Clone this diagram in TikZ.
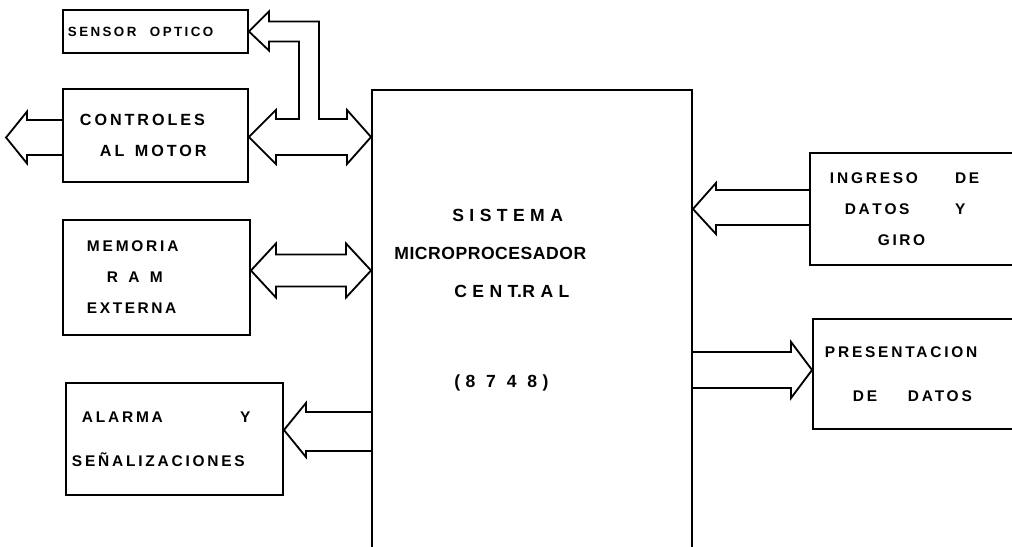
\documentclass[tikz,border=0pt]{standalone}
\usepackage{fontspec}
\newfontfamily\boxfont[LetterSpace=18]{Liberation Sans}
\newfontfamily\cpufont[LetterSpace=3]{Liberation Sans}
\usetikzlibrary{calc, positioning}
\tikzset{
    blockbox/.style={
        rectangle,
        draw=black,
        line width=1.3pt,
        inner sep=0pt,
        align=left,
        font=\boxfont\bfseries\fontsize{11}{22}\selectfont
    },
    cpubox/.style={
        rectangle,
        draw=black,
        line width=1.3pt,
        inner sep=0pt
    },
    cputext/.style={
        inner sep=0pt,
        align=left,
        font=\cpufont\bfseries\fontsize{12.5}{27}\selectfont
    },
    busarrow/.style={
        draw=black,
        line width=1.3pt,
        line join=miter
    }
}

\begin{document}
\begin{tikzpicture}[x=0.025cm, y=-0.025cm]
    \useasboundingbox (0,0) rectangle (1012,546);
    \clip (0,0) rectangle (1012,546);

    % left column
    \node[blockbox, text width=4.625cm, minimum height=1.075cm, font=\boxfont\bfseries\fontsize{9.5}{22}\selectfont] (sensor) at (155.5,31.5) {\hspace*{0.125cm}\makebox[2.05cm][l]{SENSOR}OPTICO};
    \node[blockbox, text width=4.625cm, minimum height=2.325cm, font=\boxfont\bfseries\fontsize{11.5}{22}\selectfont] (ctrl) at (155.5,135.5) {\hspace*{0.425cm}CONTROLES\\ \hspace*{0.925cm}\makebox[0.875cm][l]{AL}MOTOR};
    \node[blockbox, text width=4.675cm, minimum height=2.875cm] (ram) at (156.5,277.5) {\hspace*{0.6cm}MEMORIA\\ \hspace*{1.1cm}R\ \ A\ \ M\\ \hspace*{0.6cm}E\,X\,T\,E\,R\,N\,A};
    \node[blockbox, text width=5.425cm, minimum height=2.8cm] (alarm) at (174.5,439) {\hspace*{0.4cm}\makebox[3.95cm][l]{ALARMA}Y\\[9pt] \hspace*{0.15cm}SEÑALIZACIONES};

    % central unit
    \node[cpubox, minimum width=8cm, minimum height=12cm] (cpu) at (532,330) {};
    \node[cputext, anchor=north west] (cpulbl) at ([shift={(23,120)}]cpu.north west) {\hspace*{1.45cm}S I S T E M A\\ MICROPROCESADOR\\ \hspace*{1.5cm}C E N T.R A L\\[37pt] \hspace*{1.5cm}(\ 8\ \ 7\ \ 4\ \ 8\ )};

    % right column
    \node[blockbox, text width=5.75cm, minimum height=2.8cm] (ingreso) at (925,209) {\hspace*{0.5cm}\makebox[3.125cm][l]{INGRESO}DE\\ \hspace*{0.875cm}\makebox[2.75cm][l]{D\,A\,T\,O\,S}Y\\ \hspace*{1.7cm}G\,I\,R\,O};
    \node[blockbox, text width=5.675cm, minimum height=2.75cm] (present) at (926.5,374) {\hspace*{0.3cm}PRESENTACION\\[9pt] \hspace*{1.0cm}\makebox[1.375cm][l]{DE}DATOS};

    % buses
    \coordinate (ctrlL) at ([shift={(0,2)}]ctrl.west);
    \coordinate (motor) at ($(ctrlL)+(-56,0)$);
    \draw[busarrow] ($(ctrlL)+(0,-17.5)$) -| ($(motor)+(21,-26)$) -- (motor) -- ++(21,26) |- ($(ctrlL)+(0,17.5)$);

    \coordinate (ctrlR) at ([shift={(0,1.5)}]ctrl.east);
    \coordinate (cpuCtrl) at (cpu.west |- ctrlR);
    \draw[busarrow] (ctrlR) -- ++(27,-27) -- ++(0,9) -- ++(23,0) |- ($(sensor.east)+(20,10)$) -- ++(0,9) -- (sensor.east) -- ++(20,-20) -- ++(0,10) -| ($(cpuCtrl)+(-52,-18)$) -- ++(28,0) -- ++(0,-9) -- (cpuCtrl) -- ++(-24,27) -- ++(0,-9) -- ($(ctrlR)+(27,18)$) -- ++(0,9) -- cycle;

    \coordinate (ramR) at ([shift={(0,-7)}]ram.east);
    \coordinate (cpuRam) at (cpu.west |- ramR);
    \draw[busarrow] (ramR) -- ++(25,-27) -- ++(0,11) -- ($(cpuRam)+(-25,-16)$) -- ++(0,-11) -- (cpuRam) -- ++(-25,27) -- ++(0,-11) -- ($(ramR)+(25,16)$) -- ++(0,11) -- cycle;

    \coordinate (alarmR) at ([shift={(0,-9)}]alarm.east);
    \coordinate (cpuAlarm) at (cpu.west |- alarmR);
    \draw[busarrow] ($(cpuAlarm)+(0,-18)$) -| ($(alarmR)+(22,-27)$) -- (alarmR) -- ++(22,27) |- ($(cpuAlarm)+(0,21)$);

    \coordinate (cpuIn) at (cpu.east |- ingreso.west);
    \draw[busarrow] ($(ingreso.west)+(0,-19)$) -| ($(cpuIn)+(23,-26)$) -- (cpuIn) -- ++(23,25) |- ($(ingreso.west)+(0,16)$);

    \coordinate (presL) at ([shift={(0,-4)}]present.west);
    \coordinate (cpuPres) at (cpu.east |- presL);
    \draw[busarrow] ($(cpuPres)+(0,-18)$) -| ($(presL)+(-21,-28)$) -- (presL) -- ++(-21,28) |- ($(cpuPres)+(0,18)$);
\end{tikzpicture}
\end{document}
